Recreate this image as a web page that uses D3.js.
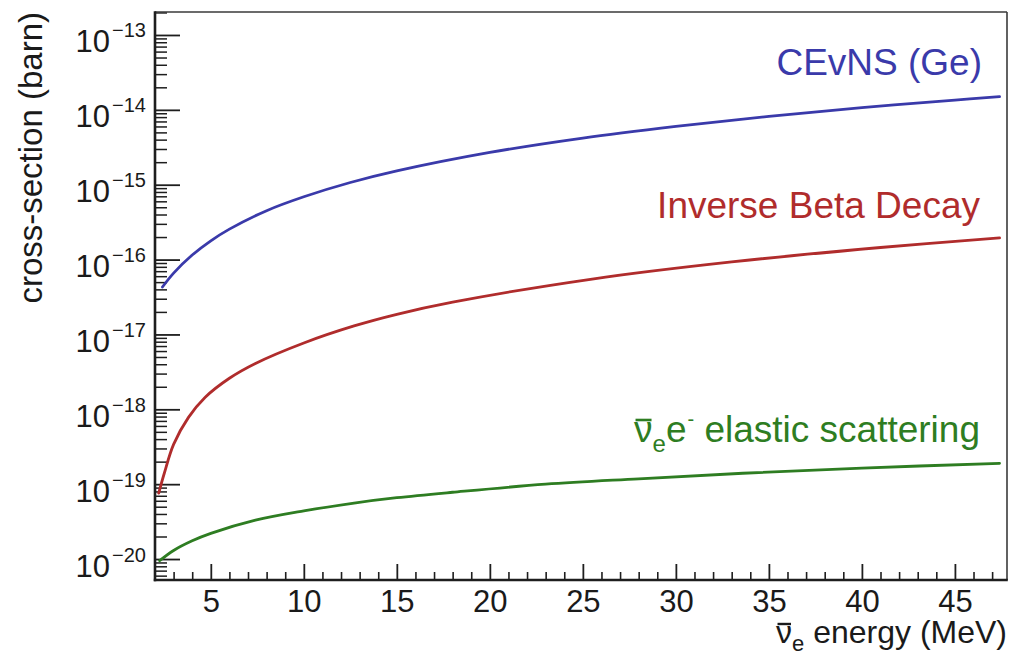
<!DOCTYPE html>
<html>
<head>
<meta charset="utf-8">
<script src="https://cdn.jsdelivr.net/npm/d3@7"></script>
<style>
  html, body { margin: 0; padding: 0; background: #ffffff; }
  svg { display: block; font-family: "Liberation Sans", Arial, Helvetica, sans-serif; }
</style>
</head>
<body>
<svg id="chart" width="1010" height="657"></svg>
<script>
// Antineutrino energy (MeV) and cross-section (barn) for each interaction channel
const cevnsEnergy = [2.4, 3, 4, 5, 6, 8, 10, 12.5, 15, 20, 25, 30, 35, 40, 45, 47.4];
const cevnsSigma  = [4.3e-17, 6.6e-17, 1.15e-16, 1.78e-16, 2.55e-16, 4.5e-16, 6.9e-16, 1.07e-15, 1.53e-15,
                     2.7e-15, 4.2e-15, 6.0e-15, 8.2e-15, 1.07e-14, 1.35e-14, 1.5e-14];

const ibdEnergy = [2.2, 2.5, 3, 3.8, 4.7, 6, 7.4, 10, 12.7, 15, 18, 25.5, 33, 41, 47.4];
const ibdSigma  = [7.6e-20, 1.4e-19, 3.4e-19, 7.8e-19, 1.45e-18, 2.6e-18, 4.1e-18, 7.7e-18, 1.3e-17,
                   1.86e-17, 2.7e-17, 5.5e-17, 9.3e-17, 1.45e-16, 1.95e-16];

const esEnergy = [2.25, 3, 4, 5, 7.4, 10, 12.7, 15, 18, 23, 28, 33.6, 40, 47.4];
const esSigma  = [9.5e-21, 1.3e-20, 1.75e-20, 2.2e-20, 3.3e-20, 4.4e-20, 5.6e-20, 6.6e-20, 7.8e-20,
                  1.0e-19, 1.18e-19, 1.4e-19, 1.64e-19, 1.9e-19];

// Axis ranges and tick labels
const xDomain = [2, 47.8];
const yDomain = [Math.pow(10, -20.28), Math.pow(10, -12.693)];
const xTickLabels = [5, 10, 15, 20, 25, 30, 35, 40, 45];
const yDecadeExponents = [-20, -19, -18, -17, -16, -15, -14, -13];

const series = [
  { name: "cevns", energy: cevnsEnergy, sigma: cevnsSigma, color: "#3a3aaa" },
  { name: "ibd",   energy: ibdEnergy,   sigma: ibdSigma,   color: "#b02c2c" },
  { name: "es",    energy: esEnergy,    sigma: esSigma,    color: "#2e7d22" }
];

const svg = d3.select("#chart");
const frameLeft = 155, frameRight = 1007, frameTop = 12, frameBottom = 580;

const x = d3.scaleLinear().domain(xDomain).range([frameLeft, frameRight]);
const y = d3.scaleLog().domain(yDomain).range([frameBottom, frameTop]);

const axisColor = "#1e1e1e";

// ---- x axis: major ticks every 5 MeV, minor every 1 MeV
const xMinor = d3.range(3, 48).filter(v => v % 5 !== 0);
svg.append("g")
  .attr("transform", `translate(0,${frameBottom})`)
  .call(d3.axisBottom(x).tickValues(xMinor).tickSize(-8).tickFormat(""))
  .call(g => g.select(".domain").remove())
  .call(g => g.selectAll("line").attr("stroke", axisColor).attr("stroke-width", 1.6));

svg.append("g")
  .attr("transform", `translate(0,${frameBottom})`)
  .call(d3.axisBottom(x).tickValues(xTickLabels).tickSize(-16).tickPadding(0).tickFormat(d3.format("d")))
  .call(g => g.select(".domain").remove())
  .call(g => g.selectAll("line").attr("stroke", axisColor).attr("stroke-width", 1.8))
  .call(g => g.selectAll("text")
    .attr("y", 32).attr("dy", null)
    .attr("fill", "#1a1a1a")
    .attr("font-size", 31)
    .attr("font-family", "Liberation Sans, Arial, Helvetica, sans-serif"));

// ---- y axis: decades with minor ticks at 2..9
const yMinor = [];
for (let k = -21; k <= -13; k++) {
  for (let m = 2; m <= 9; m++) {
    const v = m * Math.pow(10, k);
    if (v > yDomain[0] && v < yDomain[1]) yMinor.push(v);
  }
}
const yMajor = yDecadeExponents.map(e => Math.pow(10, e));

svg.append("g")
  .attr("transform", `translate(${frameLeft},0)`)
  .call(d3.axisLeft(y).tickValues(yMinor).tickSize(-12).tickFormat(""))
  .call(g => g.select(".domain").remove())
  .call(g => g.selectAll("line").attr("stroke", axisColor).attr("stroke-width", 1.5));

svg.append("g")
  .attr("transform", `translate(${frameLeft},0)`)
  .call(d3.axisLeft(y).tickValues(yMajor).tickSize(-25).tickFormat(""))
  .call(g => g.select(".domain").remove())
  .call(g => g.selectAll("line").attr("stroke", axisColor).attr("stroke-width", 1.8))
  .call(g => g.selectAll(".tick").each(function (d, i) {
    const t = d3.select(this).select("text");
    t.attr("x", -9).attr("y", 17).attr("dy", null)
      .attr("text-anchor", "end")
      .attr("fill", "#1a1a1a")
      .attr("font-family", "Liberation Sans, Arial, Helvetica, sans-serif")
      .attr("font-size", 31)
      .text("10");
    t.append("tspan")
      .attr("dx", 2).attr("dy", -15)
      .attr("font-size", 20)
      .text("\u2212" + Math.abs(yDecadeExponents[i]));
  }));

// ---- frame
svg.append("line").attr("x1", frameLeft).attr("x2", frameRight).attr("y1", frameTop).attr("y2", frameTop)
  .attr("stroke", "#3a3a3a").attr("stroke-width", 1.6);
svg.append("line").attr("x1", frameRight).attr("x2", frameRight).attr("y1", frameTop).attr("y2", frameBottom)
  .attr("stroke", "#3a3a3a").attr("stroke-width", 1.6);
svg.append("line").attr("x1", frameLeft).attr("x2", frameLeft).attr("y1", frameTop - 0.8).attr("y2", frameBottom + 1.2)
  .attr("stroke", axisColor).attr("stroke-width", 2.6);
svg.append("line").attr("x1", frameLeft - 1.2).attr("x2", frameRight + 0.8).attr("y1", frameBottom).attr("y2", frameBottom)
  .attr("stroke", axisColor).attr("stroke-width", 2.6);

// ---- curves (smooth spline through the tabulated points)
const line = d3.line()
  .x(d => x(d[0]))
  .y(d => y(d[1]))
  .curve(d3.curveCatmullRom.alpha(0.5));

series.forEach(s => {
  svg.append("path")
    .datum(s.energy.map((e, i) => [e, s.sigma[i]]))
    .attr("fill", "none")
    .attr("stroke", s.color)
    .attr("stroke-width", 2.8)
    .attr("stroke-linecap", "round")
    .attr("d", line);
});

// ---- overline for the antineutrino symbol (first character of a text node)
function overlineFirstChar(textSel, color, width, lift) {
  const node = textSel.node();
  const box = node.getExtentOfChar(0);
  const baseY = +textSel.attr("y");
  svg.append("line")
    .attr("x1", box.x + 1.5).attr("x2", box.x + box.width - 1)
    .attr("y1", baseY - lift).attr("y2", baseY - lift)
    .attr("stroke", color).attr("stroke-width", width);
}

// ---- channel labels
svg.append("text")
  .attr("x", 982).attr("y", 75)
  .attr("text-anchor", "end")
  .attr("font-size", 37)
  .attr("fill", series[0].color)
  .text("CEvNS (Ge)");

svg.append("text")
  .attr("x", 980).attr("y", 218)
  .attr("text-anchor", "end")
  .attr("font-size", 37)
  .attr("fill", series[1].color)
  .text("Inverse Beta Decay");

const esLabel = svg.append("text")
  .attr("x", 980).attr("y", 442)
  .attr("text-anchor", "end")
  .attr("font-size", 37)
  .attr("fill", series[2].color);
esLabel.append("tspan").text("\u03BD");
esLabel.append("tspan").attr("font-size", 24).attr("dy", 10).text("e");
esLabel.append("tspan").attr("dy", -10).text("e");
esLabel.append("tspan").attr("font-size", 20).attr("dy", -16).attr("dx", 1).text("-");
esLabel.append("tspan").attr("dy", 16).text(" elastic scattering");
overlineFirstChar(esLabel, series[2].color, 2.6, 22);

// ---- axis titles
const xTitle = svg.append("text")
  .attr("x", 1007).attr("y", 643)
  .attr("text-anchor", "end")
  .attr("font-size", 32)
  .attr("fill", "#1a1a1a");
xTitle.append("tspan").text("\u03BD");
xTitle.append("tspan").attr("font-size", 22).attr("dy", 8).text("e");
xTitle.append("tspan").attr("dy", -8).text(" energy (MeV)");
overlineFirstChar(xTitle, "#1a1a1a", 2.4, 19);

svg.append("text")
  .attr("transform", "translate(42,12) rotate(-90)")
  .attr("text-anchor", "end")
  .attr("font-size", 33)
  .attr("fill", "#1a1a1a")
  .text("cross-section (barn)");
</script>
</body>
</html>
